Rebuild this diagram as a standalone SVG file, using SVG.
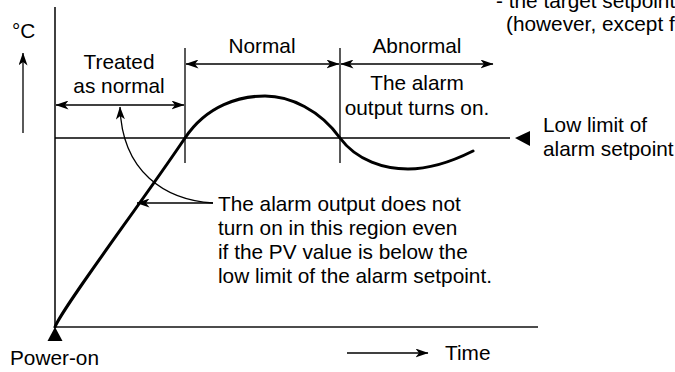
<svg xmlns="http://www.w3.org/2000/svg" width="675" height="372" viewBox="0 0 675 372">
<style>
text{font-family:"Liberation Sans",Arial,Helvetica,sans-serif;font-size:20.8px;fill:#000}
.ln{stroke:#000;stroke-width:1.3;fill:none}
.ax{stroke:#111;stroke-width:1.6;fill:none}
.cv{stroke:#000;stroke-width:3;fill:none;stroke-linecap:round}
.ar{stroke:#000;stroke-width:1.3;fill:none;marker-end:url(#arr)}
.da{stroke:#000;stroke-width:1.3;fill:none;marker-start:url(#arr);marker-end:url(#arr)}
.mid{text-anchor:middle}
</style>
<defs>
<marker id="arr" viewBox="0 0 13 9" refX="12.5" refY="4.5" markerWidth="13" markerHeight="9" markerUnits="userSpaceOnUse" orient="auto-start-reverse">
<path d="M0,0 L13,4.5 L0,9 L3.5,4.5 Z" fill="#000"/>
</marker>
</defs>
<rect width="675" height="372" fill="#fff"/>
<g id="axes">
<line class="ax" x1="55" y1="7" x2="55" y2="327"/>
<line class="ax" x1="55" y1="327" x2="538" y2="327"/>
<line class="ln" x1="55" y1="138" x2="510" y2="138"/>
<line class="ln" x1="185" y1="48" x2="185" y2="163"/>
<line class="ln" x1="340" y1="48" x2="340" y2="163"/>
</g>
<g id="pv-curve">
<path class="cv" d="M55,327 C62,308 140,205 185,138 C207,105 240,96 265,96 C290,96 320,110 340,138 C357,161 385,169 408,169 C430,169 455,160 473,151"/>
</g>
<g id="unit-label">
<text x="12" y="38">°C</text>
</g>
<g id="power-on">
<polygon points="55,327 47.5,341 62.5,341" fill="#000"/>
<text x="10" y="365">Power-on</text>
</g>
<g id="time-label">
<text x="445" y="360">Time</text>
</g>
<g id="treated-as-normal">
<text class="mid" x="119" y="69">Treated</text>
<text class="mid" x="119" y="93">as normal</text>
</g>
<g id="normal">
<text class="mid" x="262" y="53">Normal</text>
</g>
<g id="abnormal">
<text class="mid" x="417" y="53">Abnormal</text>
<text class="mid" x="417" y="90">The alarm</text>
<text class="mid" x="417" y="115">output turns on.</text>
</g>
<g id="low-limit">
<polygon points="515,138 530,131 530,146" fill="#000"/>
<text x="543" y="132">Low limit of</text>
<text x="543" y="156">alarm setpoint</text>
</g>
<g id="note-top">
<text x="496" y="8">- the target setpoint</text>
<text x="506" y="31">(however, except f</text>
</g>
<g id="callout">
<text x="218" y="211">The alarm output does not</text>
<text x="218" y="235">turn on in this region even</text>
<text x="218" y="259">if the PV value is below the</text>
<text x="218" y="283">low limit of the alarm setpoint.</text>
</g>
<g id="connectors">
<line class="ar" x1="23" y1="133" x2="23" y2="53"/>
<line class="da" x1="56" y1="105" x2="184" y2="105"/>
<line class="da" x1="186" y1="64" x2="339" y2="64"/>
<line class="da" x1="341" y1="64" x2="493" y2="64"/>
<line class="ar" x1="347" y1="353" x2="428" y2="353"/>
<line class="ar" x1="213" y1="203" x2="137" y2="203"/>
<path class="ar" d="M213,203 C165,200 122,172 120,107"/>
</g>
</svg>
